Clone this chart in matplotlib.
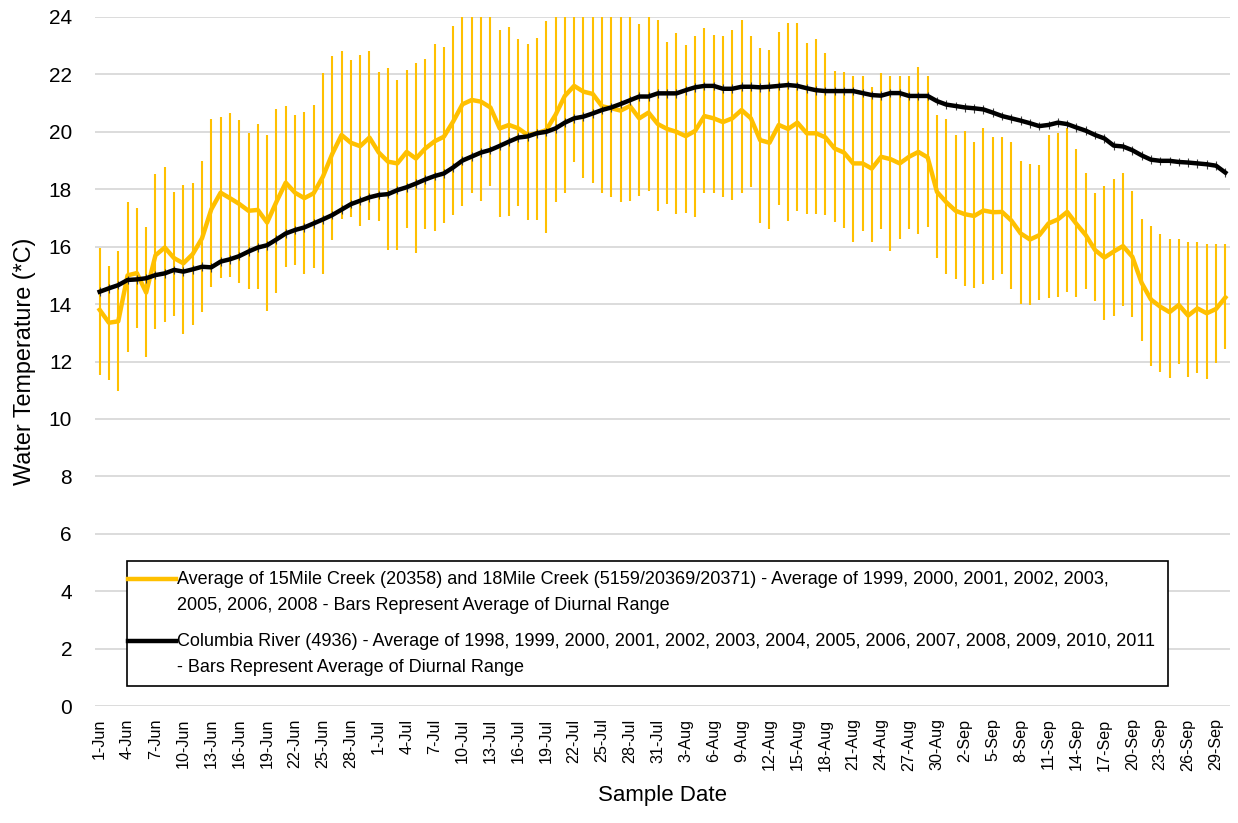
import matplotlib.pyplot as plt
from matplotlib.lines import Line2D
from matplotlib.patches import Rectangle
import numpy as np
import pandas as pd

# sample dates, 1 Jun - 30 Sep
dates = pd.date_range("2000-06-01", "2000-09-30", freq="D")
date_labels = [f"{d.day}-{d.strftime('%b')}" for d in dates]

# 15Mile / 18Mile Creek average (daily mean, mean daily min, mean daily max)
creek_mean = [
    13.8, 13.35, 13.4, 15.0, 15.08, 14.4, 15.7, 15.97, 15.6, 15.42,
    15.74, 16.29, 17.3, 17.88, 17.69, 17.49, 17.25, 17.28, 16.84, 17.56,
    18.23, 17.88, 17.69, 17.86, 18.44, 19.23, 19.89, 19.62, 19.5, 19.8,
    19.28, 18.96, 18.9, 19.3, 19.07, 19.42, 19.67, 19.83, 20.36, 20.96,
    21.11, 21.05, 20.85, 20.12, 20.24, 20.12, 19.89, 19.95, 20.06, 20.59,
    21.25, 21.6, 21.4, 21.32, 20.89, 20.82, 20.74, 20.9, 20.47, 20.67,
    20.27, 20.1, 20.0, 19.85, 20.03, 20.55, 20.47, 20.34, 20.47, 20.76,
    20.47, 19.71, 19.62, 20.24, 20.1, 20.32, 19.95, 19.95, 19.81, 19.42,
    19.28, 18.9, 18.9, 18.72, 19.13, 19.05, 18.9, 19.13, 19.3, 19.11,
    17.91, 17.55, 17.25, 17.13, 17.07, 17.26, 17.2, 17.21, 16.91, 16.46,
    16.25, 16.4, 16.81, 16.95, 17.21, 16.79, 16.4, 15.88, 15.62, 15.83,
    16.02, 15.65, 14.74, 14.16, 13.91, 13.72, 13.97, 13.6, 13.85, 13.68,
    13.83, 14.23,
]
creek_low = [
    11.53, 11.35, 10.97, 12.33, 13.16, 12.16, 13.13, 13.38, 13.58, 12.96,
    13.27, 13.74, 14.58, 14.9, 14.95, 14.72, 14.51, 14.54, 13.77, 14.4,
    15.3, 15.36, 15.05, 15.25, 15.05, 16.23, 16.98, 17.02, 16.72, 16.93,
    16.9, 15.89, 15.89, 16.66, 15.79, 16.6, 16.56, 16.84, 17.1, 17.42,
    17.88, 17.6, 18.1, 17.04, 17.07, 17.42, 16.93, 16.93, 16.46, 17.56,
    17.88, 18.96, 18.38, 18.23, 17.88, 17.74, 17.56, 17.6, 17.77, 17.95,
    17.25, 17.5, 17.13, 17.16, 17.04, 17.86, 17.88, 17.74, 17.64, 17.88,
    18.08, 16.84, 16.6, 17.46, 16.89, 17.25, 17.13, 17.13, 17.1, 16.85,
    16.64, 16.15, 16.54, 16.17, 16.6, 15.86, 16.28, 16.6, 16.43, 16.7,
    15.62, 15.05, 14.86, 14.64, 14.57, 14.7, 14.84, 15.05, 14.54, 14.02,
    13.96, 14.14, 14.2, 14.26, 14.41, 14.24, 14.54, 14.1, 13.44, 13.58,
    13.93, 13.56, 12.73, 11.85, 11.62, 11.41, 11.91, 11.45, 11.61, 11.38,
    11.94, 12.42,
]
creek_high = [
    15.95, 15.33, 15.85, 17.56, 17.33, 16.68, 18.53, 18.77, 17.9, 18.15,
    18.22, 18.98, 20.43, 20.5, 20.64, 20.4, 19.95, 20.27, 19.9, 20.81,
    20.9, 20.59, 20.7, 20.93, 22.06, 22.64, 22.82, 22.5, 22.68, 22.8,
    22.07, 22.24, 21.8, 22.17, 22.41, 22.55, 23.05, 22.96, 23.7, 24.2,
    24.3, 24.3, 24.1, 23.54, 23.64, 23.22, 23.05, 23.28, 23.86, 24.2,
    24.5, 24.6, 24.4, 24.3, 24.2, 24.1, 24.1, 24.2, 23.75, 24.05,
    23.9, 23.14, 23.45, 23.02, 23.34, 23.6, 23.37, 23.34, 23.55, 23.91,
    23.34, 22.91, 22.85, 23.49, 23.8, 23.8, 23.1, 23.22, 22.73, 22.11,
    22.08, 21.96, 21.96, 21.55, 22.04, 21.95, 21.95, 21.96, 22.27, 21.96,
    20.59, 20.43, 19.9, 20.03, 19.66, 20.12, 19.81, 19.81, 19.63, 19.0,
    18.87, 18.86, 19.89, 19.95, 20.12, 19.4, 18.55, 17.88, 18.13, 18.37,
    18.55, 17.94, 16.98, 16.73, 16.43, 16.26, 16.26, 16.17, 16.17, 16.11,
    16.08, 16.11,
]

# Columbia River daily mean
river_mean = [
    14.43, 14.55, 14.66, 14.84, 14.86, 14.9, 15.01, 15.07, 15.19, 15.13,
    15.21, 15.3, 15.28, 15.48, 15.56, 15.67, 15.83, 15.97, 16.05, 16.25,
    16.46, 16.58, 16.67, 16.81, 16.95, 17.1, 17.29, 17.48, 17.6, 17.72,
    17.8, 17.83, 17.97, 18.07, 18.2, 18.34, 18.46, 18.55, 18.76, 19.0,
    19.14, 19.28, 19.37, 19.51, 19.66, 19.8, 19.84, 19.95, 20.0, 20.12,
    20.32, 20.47, 20.53, 20.64, 20.76, 20.85, 20.97, 21.1, 21.23, 21.23,
    21.34, 21.34, 21.34, 21.45, 21.55, 21.6, 21.6, 21.5, 21.5, 21.57,
    21.57, 21.55, 21.57, 21.6, 21.63, 21.6, 21.52, 21.45, 21.42, 21.42,
    21.42, 21.42, 21.35, 21.28, 21.26, 21.35, 21.35, 21.25, 21.25, 21.25,
    21.07, 20.95, 20.9, 20.85, 20.82, 20.78, 20.67, 20.55, 20.47, 20.39,
    20.3, 20.2, 20.24, 20.32, 20.27, 20.15, 20.04, 19.89, 19.77, 19.52,
    19.49, 19.36, 19.18, 19.03, 18.99, 18.99, 18.95, 18.93, 18.9, 18.87,
    18.82, 18.58,
]
river_half_range = 0.15

creek_label = ("Average of 15Mile Creek (20358) and 18Mile Creek (5159/20369/20371) - "
               "Average of 1999, 2000, 2001, 2002, 2003,\n"
               "2005, 2006, 2008 - Bars Represent Average of Diurnal Range")
river_label = ("Columbia River (4936) - Average of 1998, 1999, 2000, 2001, 2002, 2003, "
               "2004, 2005, 2006, 2007, 2008, 2009, 2010, 2011\n"
               "- Bars Represent Average of Diurnal Range")

plt.rcParams['font.family'] = ['Liberation Sans', 'DejaVu Sans']

W, H = 1238, 823
x = np.arange(len(dates))
cm = np.array(creek_mean)
yerr_creek = [cm - np.array(creek_low), np.array(creek_high) - cm]

fig = plt.figure(figsize=(W / 100, H / 100), dpi=100)
ax = fig.add_axes([95 / W, 1 - 706 / H, 1135 / W, 689 / H])

gold = '#FFC000'
ax.errorbar(x, creek_mean, yerr=yerr_creek, fmt='none', ecolor=gold,
            elinewidth=1.5, capsize=0, zorder=2)
ax.plot(x, creek_mean, color=gold, lw=3.2, zorder=3)
ax.errorbar(x, river_mean, yerr=river_half_range, fmt='none', ecolor='#404040',
            elinewidth=0.8, capsize=0, zorder=4)
ax.plot(x, river_mean, color='black', lw=3.2, zorder=5)

ax.set_xlim(-0.5, len(dates) - 0.5)
ax.set_ylim(0, 24)
ax.set_yticks(np.arange(0, 25, 2))
ax.set_xticks(x[::3])
ax.set_xticklabels(date_labels[::3], rotation=90, fontsize=11.6)
ax.tick_params(axis='y', labelsize=15, length=0, pad=16.5)
ax.tick_params(axis='x', length=0, pad=9)
ax.grid(axis='y', color='#D9D9D9', lw=1.3)
ax.set_axisbelow(True)
for s in ax.spines.values():
    s.set_visible(False)

ax.set_ylabel('Water Temperature (*C)', fontsize=16.8, labelpad=9)
ax.set_xlabel('Sample Date', fontsize=16, labelpad=10)

# legend box, laid out in pixel positions
def px(xp, yp):
    return xp / W, 1 - yp / H

x0, y0 = px(127, 686)
x1, y1 = px(1168, 561)
fig.patches.append(Rectangle((x0, y0), x1 - x0, y1 - y0, transform=fig.transFigure,
                             facecolor='white', edgecolor='black', lw=1.2, zorder=10))
for label, color, top in [(creek_label, gold, 579), (river_label, 'black', 641)]:
    hx0, hy = px(128, top)
    hx1, _ = px(176, top)
    fig.add_artist(Line2D([hx0, hx1], [hy, hy], color=color, lw=3.2,
                          transform=fig.transFigure, zorder=11))
    for i, line in enumerate(label.split('\n')):
        tx, ty = px(177, top + 27 * i)
        fig.text(tx, ty, line, fontsize=13, va='center', ha='left', zorder=11)

fig.savefig('out.png', dpi=100)
